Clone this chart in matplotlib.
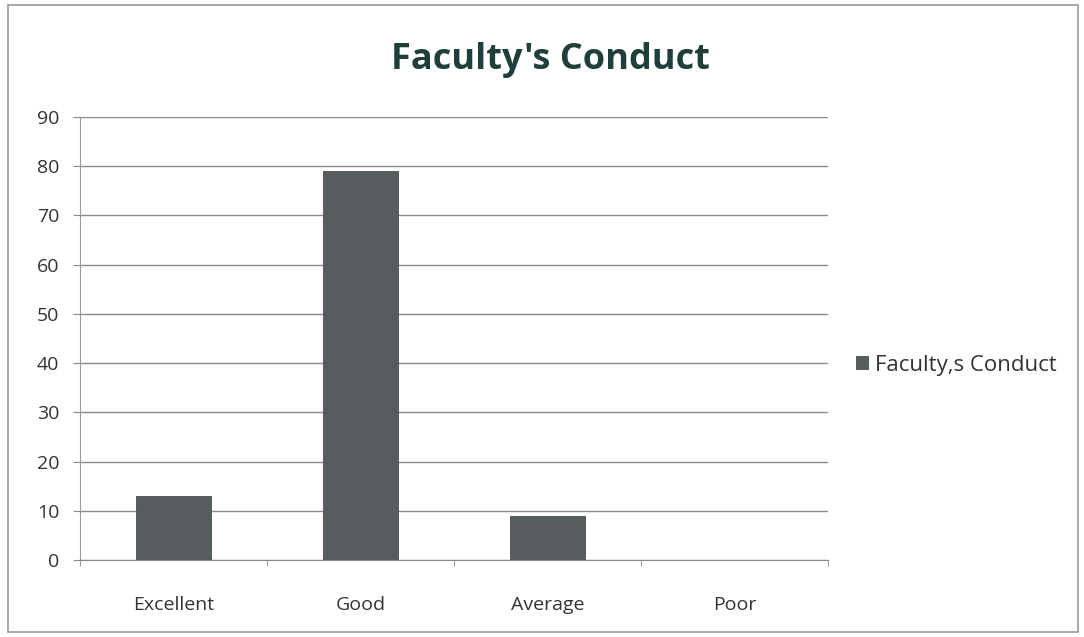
import matplotlib
matplotlib.use("Agg")
import matplotlib.pyplot as plt
from matplotlib.patches import Rectangle
import numpy as np

categories = ["Excellent", "Good", "Average", "Poor"]
values = [13, 79, 9, 0]
series_name = "Faculty,s Conduct"
title = "Faculty's Conduct"
yticks = [0, 10, 20, 30, 40, 50, 60, 70, 80, 90]

plt.rcParams['font.family'] = ['Open Sans', 'DejaVu Sans']

fig = plt.figure(figsize=(10.84, 6.37), dpi=100)
fig.patch.set_facecolor('white')
# outer chart border
fig.add_artist(Rectangle((8/1084, 5/637), 1070/1084, 627/637, transform=fig.transFigure,
                         fill=False, edgecolor='#9a9a9a', linewidth=1.2))

ax = fig.add_axes([80/1084, (637-560)/637, (828-80)/1084, (560-117)/637])
x = np.arange(len(categories))
bar_color = '#575c5e'
ax.bar(x, values, width=0.4, color=bar_color, edgecolor='#4a4e50', linewidth=0.6,
       label=series_name, zorder=3)

ax.set_xlim(-0.5, len(categories) - 0.5)
ax.set_ylim(0, 90)
ax.set_yticks(yticks)
ax.set_yticklabels([str(v) for v in yticks], fontsize=14, color='#333333')
ax.yaxis.grid(True, color='#8a8a8a', linewidth=1.0, zorder=0)
ax.set_axisbelow(True)

ax.set_xticks(x)
ax.set_xticklabels(categories, fontsize=14, color='#333333')
ax.tick_params(axis='x', length=0, pad=26)
ax.set_xticks(np.arange(len(categories) + 1) - 0.5, minor=True)
ax.tick_params(axis='x', which='minor', length=4, color='#8a8a8a')
ax.tick_params(axis='y', length=5, color='#8a8a8a', pad=10)

for s in ['top', 'right']:
    ax.spines[s].set_visible(False)
ax.spines['left'].set_color('#9a9a9a')
ax.spines['bottom'].set_color('#8a8a8a')

fig.text(550/1084, 1 - 60/637, title, ha='center', va='center', fontsize=26,
         fontweight='bold', color='#1f3f3c')

leg = fig.legend(loc='center left', bbox_to_anchor=(836/1084, 1 - 365/637), frameon=False,
                 fontsize=16, handlelength=0.55, handleheight=0.55, handletextpad=0.3,
                 labelcolor='#333333')

fig.savefig("out.png", dpi=100)
